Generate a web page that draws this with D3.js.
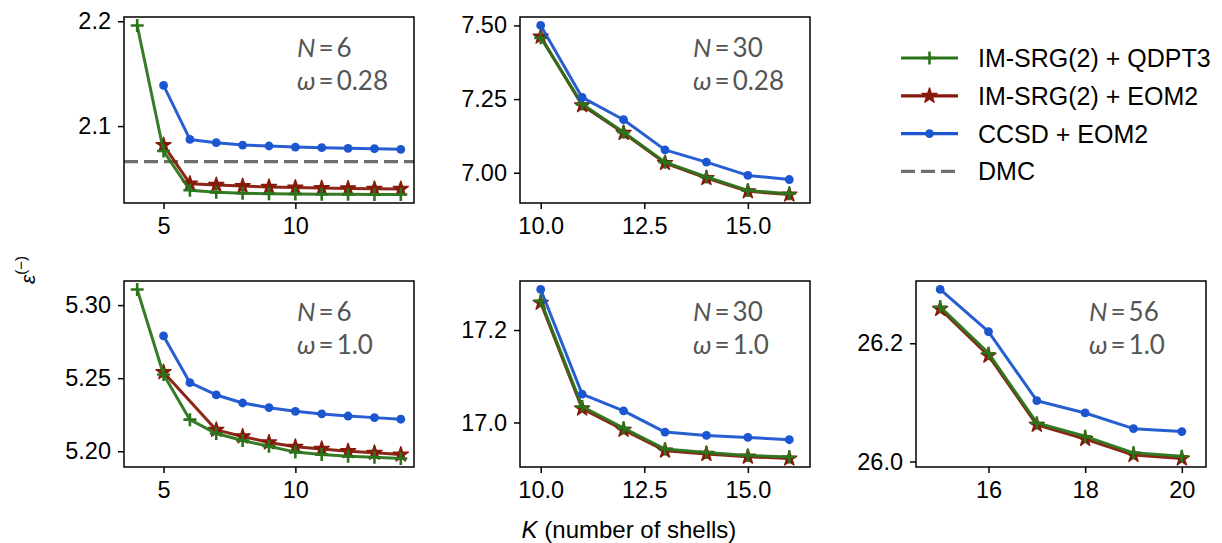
<!DOCTYPE html>
<html>
<head>
<meta charset="utf-8">
<script src="https://cdn.jsdelivr.net/npm/d3@7"></script>
<style>
  html, body { margin: 0; padding: 0; background: #fff; }
  svg { display: block; }
  .tick text { font-family: "Liberation Sans", Arial, sans-serif; }
</style>
</head>
<body>
<svg id="chart" width="1222" height="543"></svg>
<script>
// ---- data: excitation energies vs. number of shells K ----
const seriesNames = ["IM-SRG(2) + QDPT3", "IM-SRG(2) + EOM2", "CCSD + EOM2", "DMC"];

// N = 6, omega = 0.28
const kN6w028 = [4, 5, 6, 7, 8, 9, 10, 11, 12, 13, 14];
const qdpt3N6w028 = [2.196, 2.0762, 2.0388, 2.0368, 2.0360, 2.0355, 2.0352, 2.0350, 2.0349, 2.0348, 2.0347];
const eom2N6w028 = [null, 2.0819, 2.0451, 2.0438, 2.0428, 2.0420, 2.0414, 2.0409, 2.0405, 2.0402, 2.0400];
const ccsdN6w028 = [null, 2.1388, 2.0873, 2.0842, 2.0819, 2.0810, 2.0800, 2.0794, 2.0788, 2.0784, 2.0778];
const dmcN6w028 = 2.0661;

// N = 30, omega = 0.28
const kN30w028 = [10, 11, 12, 13, 14, 15, 16];
const qdpt3N30w028 = [7.458, 7.233, 7.1375, 7.036, 6.9855, 6.940, 6.929];
const eom2N30w028 = [7.462, 7.229, 7.135, 7.033, 6.982, 6.937, 6.926];
const ccsdN30w028 = [7.500, 7.2557, 7.180, 7.0777, 7.036, 6.991, 6.977];

// N = 6, omega = 1.0
const kN6w1 = [4, 5, 6, 7, 8, 9, 10, 11, 12, 13, 14];
const qdpt3N6w1 = [5.3107, 5.2525, 5.2216, 5.2121, 5.2073, 5.2034, 5.1994, 5.1977, 5.1966, 5.1959, 5.1950];
const eom2N6w1 = [null, 5.2541, null, 5.2146, 5.2101, 5.2060, 5.2030, 5.2016, 5.2000, 5.1989, 5.1977];
const ccsdN6w1 = [null, 5.2789, 5.2469, 5.2385, 5.2330, 5.2298, 5.2273, 5.2255, 5.2241, 5.2230, 5.2219];

// N = 30, omega = 1.0
const kN30w1 = [10, 11, 12, 13, 14, 15, 16];
const qdpt3N30w1 = [17.2632, 17.0345, 16.9879, 16.9426, 16.9353, 16.9288, 16.9253];
const eom2N30w1 = [17.259, 17.030, 16.984, 16.939, 16.932, 16.926, 16.922];
const ccsdN30w1 = [17.2878, 17.0613, 17.0252, 16.9793, 16.972, 16.9676, 16.9627];

// N = 56, omega = 1.0
const kN56w1 = [15, 16, 17, 18, 19, 20];
const qdpt3N56w1 = [26.2617, 26.1832, 26.0652, 26.0426, 26.0147, 26.0089];
const eom2N56w1 = [26.258, 26.179, 26.062, 26.038, 26.011, 26.005];
const ccsdN56w1 = [26.291, 26.2195, 26.1028, 26.0821, 26.0556, 26.0506];

// tick labels
const xTicksSmall = [5, 10];
const xTicksMid = [10.0, 12.5, 15.0];
const xTicksLarge = [16, 18, 20];
const yTicksN6w028 = [2.1, 2.2];
const yTicksN30w028 = [7.00, 7.25, 7.50];
const yTicksN6w1 = [5.20, 5.25, 5.30];
const yTicksN30w1 = [17.0, 17.2];
const yTicksN56w1 = [26.0, 26.2];

// ---- styling ----
const COLORS = { qdpt3: "#2b741c", eom2: "#861a0b", ccsd: "#1b55cf", dmc: "#6e6e6e" };
const TICK_FONT = 23.5;
const LABEL_FONT = "'Liberation Sans', Arial, sans-serif";
const ANNOT_FONT = "Lato, 'Open Sans', 'DejaVu Sans', sans-serif";

const panels = [
  { col: 0, row: 0, k: kN6w028, q: qdpt3N6w028, e: eom2N6w028, c: ccsdN6w028, dmc: dmcN6w028,
    xt: xTicksSmall, xf: d3.format("d"), yt: yTicksN6w028, yf: d3.format(".1f"), N: "6", w: "0.28" },
  { col: 1, row: 0, k: kN30w028, q: qdpt3N30w028, e: eom2N30w028, c: ccsdN30w028,
    xt: xTicksMid, xf: d3.format(".1f"), yt: yTicksN30w028, yf: d3.format(".2f"), N: "30", w: "0.28" },
  { col: 0, row: 1, k: kN6w1, q: qdpt3N6w1, e: eom2N6w1, c: ccsdN6w1,
    xt: xTicksSmall, xf: d3.format("d"), yt: yTicksN6w1, yf: d3.format(".2f"), N: "6", w: "1.0" },
  { col: 1, row: 1, k: kN30w1, q: qdpt3N30w1, e: eom2N30w1, c: ccsdN30w1,
    xt: xTicksMid, xf: d3.format(".1f"), yt: yTicksN30w1, yf: d3.format(".1f"), N: "30", w: "1.0" },
  { col: 2, row: 1, k: kN56w1, q: qdpt3N56w1, e: eom2N56w1, c: ccsdN56w1,
    xt: xTicksLarge, xf: d3.format("d"), yt: yTicksN56w1, yf: d3.format(".1f"), N: "56", w: "1.0" }
];

// ---- layout ----
const colLeft = [124, 520, 916];
const rowTop = [17, 281];
const PW = 290, PH = 186;

const svg = d3.select("#chart");

// marker shapes
const plusPath = s => `M${-s},0H${s}M0,${-s}V${s}`;
const starSym = d3.symbol().type(d3.symbolStar).size(70);

function drawMarker(g, type, x, y) {
  if (type === "qdpt3") {
    g.append("path").attr("d", plusPath(6.5)).attr("transform", `translate(${x},${y})`)
      .attr("stroke", COLORS.qdpt3).attr("stroke-width", 2.6).attr("fill", "none");
  } else if (type === "eom2") {
    g.append("path").attr("d", starSym()).attr("transform", `translate(${x},${y})`)
      .attr("fill", COLORS.eom2).attr("stroke", COLORS.eom2).attr("stroke-width", 1.4)
      .attr("stroke-linejoin", "round");
  } else {
    g.append("circle").attr("cx", x).attr("cy", y).attr("r", 4.4).attr("fill", COLORS.ccsd);
  }
}

panels.forEach((p, i) => {
  const x0 = colLeft[p.col], y0 = rowTop[p.row];
  const g = svg.append("g").attr("transform", `translate(${x0},${y0})`);

  const kExt = d3.extent(p.k);
  const x = d3.scaleLinear().domain([kExt[0] - 0.5, kExt[1] + 0.5]).range([0, PW]);

  const allVals = [...p.q, ...p.e, ...p.c].filter(v => v != null);
  if (p.dmc != null) allVals.push(p.dmc);
  const [lo, hi] = d3.extent(allVals);
  const pad = (hi - lo) * 0.05;
  const y = d3.scaleLinear().domain([lo - pad, hi + pad]).range([PH, 0]);

  const clipId = "clip" + i;
  g.append("clipPath").attr("id", clipId).append("rect").attr("width", PW).attr("height", PH);
  const plot = g.append("g").attr("clip-path", `url(#${clipId})`);

  // DMC reference line
  if (p.dmc != null) {
    plot.append("line").attr("x1", 0).attr("x2", PW).attr("y1", y(p.dmc)).attr("y2", y(p.dmc))
      .attr("stroke", COLORS.dmc).attr("stroke-width", 3.2).attr("stroke-dasharray", "14,6");
  }

  const line = d3.line().x(d => x(d[0])).y(d => y(d[1]));
  const order = [["eom2", p.e], ["qdpt3", p.q], ["ccsd", p.c]];
  order.forEach(([key, vals]) => {
    const pts = p.k.map((k, j) => [k, vals[j]]).filter(d => d[1] != null);
    plot.append("path").datum(pts).attr("d", line).attr("fill", "none")
      .attr("stroke", COLORS[key]).attr("stroke-width", 3).attr("stroke-opacity", 0.95)
      .attr("stroke-linejoin", "round");
    const mg = plot.append("g");
    pts.forEach(d => drawMarker(mg, key, x(d[0]), y(d[1])));
  });

  // axes
  const xAxis = g.append("g").attr("transform", `translate(0,${PH})`)
    .call(d3.axisBottom(x).tickValues(p.xt).tickFormat(p.xf).tickSize(6).tickPadding(8));
  const yAxis = g.append("g")
    .call(d3.axisLeft(y).tickValues(p.yt).tickFormat(p.yf).tickSize(6).tickPadding(7));
  [xAxis, yAxis].forEach(a => {
    a.select(".domain").remove();
    a.selectAll(".tick line").attr("stroke", "#000").attr("stroke-width", 1.5);
    a.selectAll(".tick text").attr("font-size", TICK_FONT).attr("fill", "#000");
  });

  // frame
  g.append("rect").attr("width", PW).attr("height", PH).attr("fill", "none")
    .attr("stroke", "#000").attr("stroke-width", 1.5);

  // annotation
  const ax = PW - 117;
  const t1 = g.append("text").attr("x", ax).attr("y", 40)
    .attr("font-family", ANNOT_FONT).attr("font-size", 26).attr("fill", "#555");
  t1.append("tspan").attr("font-style", "italic").text("N");
  t1.append("tspan").attr("dx", 3).text("=");
  t1.append("tspan").attr("dx", 3).text(p.N);
  const t2 = g.append("text").attr("x", ax).attr("y", 73)
    .attr("font-family", ANNOT_FONT).attr("font-size", 26).attr("fill", "#555");
  t2.append("tspan").attr("font-style", "italic").text("ω");
  t2.append("tspan").attr("dx", 3).text("=");
  t2.append("tspan").attr("dx", 3).text(p.w);
});

// ---- shared axis labels ----
const xl = svg.append("text").attr("x", 629).attr("y", 538).attr("text-anchor", "middle")
  .attr("font-family", LABEL_FONT).attr("font-size", 24).attr("fill", "#000");
xl.append("tspan").attr("font-style", "italic").text("K");
xl.append("tspan").text(" (number of shells)");

const yl = svg.append("text").attr("transform", "translate(35,270) rotate(-90)")
  .attr("text-anchor", "middle").attr("font-family", LABEL_FONT).attr("fill", "#000");
yl.append("tspan").attr("font-size", 21).attr("font-style", "italic").text("ε");
yl.append("tspan").attr("font-size", 15).attr("dy", -9).text("(−)");

// ---- legend ----
const legend = svg.append("g").attr("transform", "translate(901,58)");
const legendKeys = ["qdpt3", "eom2", "ccsd", "dmc"];
legendKeys.forEach((key, i) => {
  const ly = i * 37.8;
  const row = legend.append("g").attr("transform", `translate(0,${ly})`);
  const ln = row.append("line").attr("x1", 0).attr("x2", 57).attr("y1", 0).attr("y2", 0)
    .attr("stroke", COLORS[key]).attr("stroke-width", 3.2);
  if (key === "dmc") ln.attr("stroke-dasharray", "14,6");
  else drawMarker(row, key, 28.5, 0);
  row.append("text").attr("x", 77).attr("y", 9).attr("font-family", LABEL_FONT)
    .attr("font-size", 25).attr("fill", "#000").text(seriesNames[i]);
});
</script>
</body>
</html>
